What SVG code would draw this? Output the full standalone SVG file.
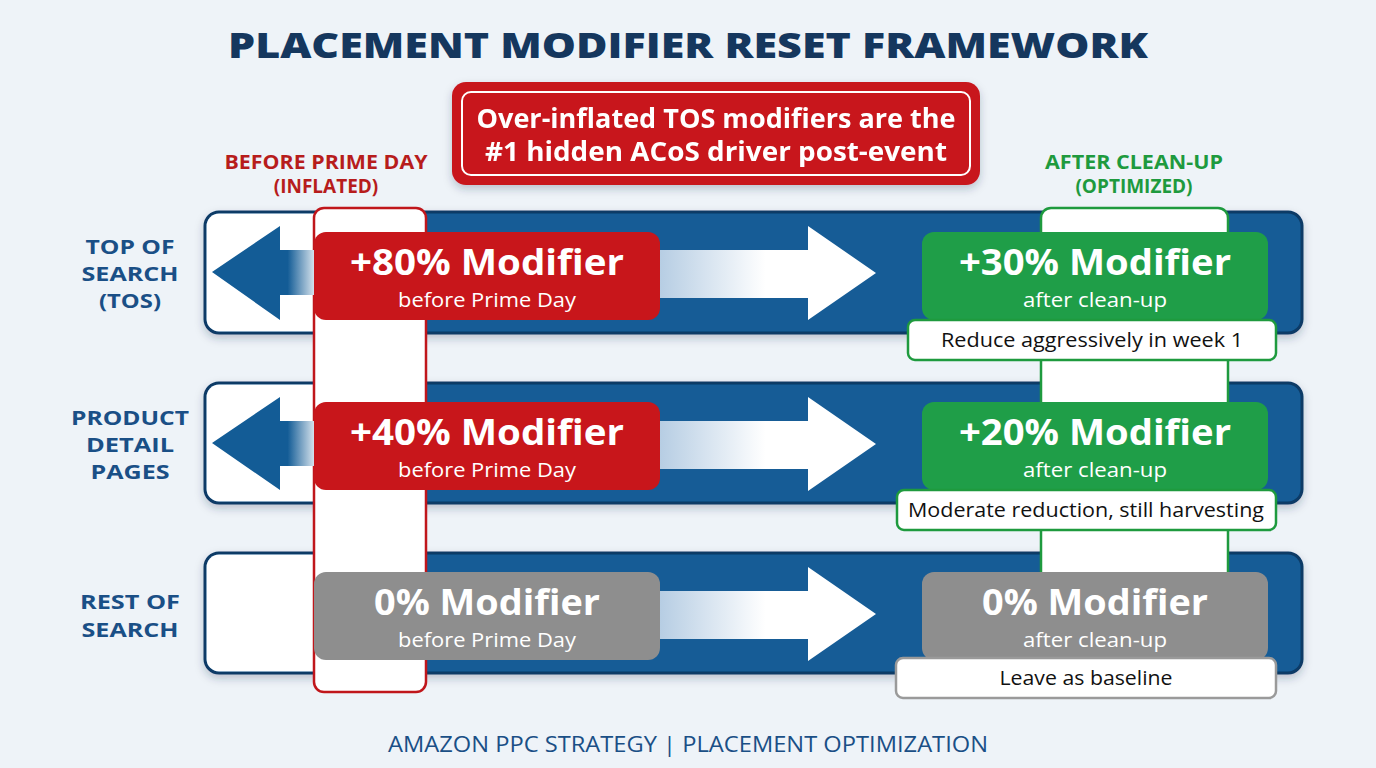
<svg xmlns="http://www.w3.org/2000/svg" width="1376" height="768" viewBox="0 0 1376 768">
<style>
.t{font-family:"Open Sans","Liberation Sans",sans-serif}
.title{font-size:36px;font-weight:800;fill:#15375e}
.lbl{font-size:19px;font-weight:700;fill:#1a4f86;text-anchor:middle}
.hdr{font-size:19px;font-weight:700;text-anchor:middle}
.big{font-size:35px;font-weight:700;fill:#fff;text-anchor:middle}
.sub{font-size:20px;fill:#fff;text-anchor:middle}
.note{font-size:20px;fill:#111;text-anchor:middle}
.band{fill:#135c96;stroke:#0f3a66;stroke-width:3}
.red{fill:#c8161b}
.grn{fill:#1f9e48}
.gry{fill:#8e8e8e}
</style>
<defs>
<filter id="sh" x="-10%" y="-20%" width="120%" height="150%"><feDropShadow dx="0" dy="4" stdDeviation="4" flood-color="#1a3050" flood-opacity="0.25"/></filter>
<linearGradient id="ag" x1="0" x2="1" y1="0" y2="0"><stop offset="0" stop-color="#b3cbe2"/><stop offset="0.5" stop-color="#ffffff"/><stop offset="1" stop-color="#ffffff"/></linearGradient>
<linearGradient id="lg" x1="0" x2="1" y1="0" y2="0"><stop offset="0" stop-color="#135c96"/><stop offset="0.7" stop-color="#135c96"/><stop offset="1" stop-color="#ffffff"/></linearGradient>
</defs>
<rect width="1376" height="768" fill="#eef3f8"/>
<text class="t title" x="228" y="58" textLength="920" lengthAdjust="spacingAndGlyphs">PLACEMENT MODIFIER RESET FRAMEWORK</text>

<g id="callout" filter="url(#sh)">
<rect x="452" y="82" width="528" height="103" rx="14" fill="#c8161b"/>
<rect x="462" y="92" width="508" height="83" rx="9" fill="none" stroke="#fff" stroke-width="2"/>
<text class="t" x="716" y="128" font-size="26" font-weight="700" fill="#fff" text-anchor="middle" textLength="479" lengthAdjust="spacingAndGlyphs">Over-inflated TOS modifiers are the</text>
<text class="t" x="716" y="161" font-size="26" font-weight="700" fill="#fff" text-anchor="middle" textLength="462" lengthAdjust="spacingAndGlyphs">#1 hidden ACoS driver post-event</text>
</g>

<g id="headers">
<text class="t hdr" x="326" y="169" fill="#b71c1c" textLength="203" lengthAdjust="spacingAndGlyphs">BEFORE PRIME DAY</text>
<text class="t hdr" x="326" y="193" fill="#b71c1c">(INFLATED)</text>
<text class="t hdr" x="1134" y="169" fill="#1e9a3e" textLength="178" lengthAdjust="spacingAndGlyphs">AFTER CLEAN-UP</text>
<text class="t hdr" x="1134" y="193" fill="#1e9a3e">(OPTIMIZED)</text>
</g>

<g id="rowlabels">
<text class="t lbl" x="130" y="254" textLength="89" lengthAdjust="spacingAndGlyphs">TOP OF</text>
<text class="t lbl" x="130" y="281" textLength="97" lengthAdjust="spacingAndGlyphs">SEARCH</text>
<text class="t lbl" x="130" y="308" textLength="62" lengthAdjust="spacingAndGlyphs">(TOS)</text>
<text class="t lbl" x="130" y="425" textLength="118" lengthAdjust="spacingAndGlyphs">PRODUCT</text>
<text class="t lbl" x="130" y="452" textLength="88" lengthAdjust="spacingAndGlyphs">DETAIL</text>
<text class="t lbl" x="130" y="479" textLength="79" lengthAdjust="spacingAndGlyphs">PAGES</text>
<text class="t lbl" x="130" y="609" textLength="100" lengthAdjust="spacingAndGlyphs">REST OF</text>
<text class="t lbl" x="130" y="637" textLength="97" lengthAdjust="spacingAndGlyphs">SEARCH</text>
</g>

<g id="bands" filter="url(#sh)">
<rect class="band" x="205" y="212" width="1097" height="121" rx="14"/>
<rect class="band" x="205" y="383" width="1097" height="120" rx="14"/>
<rect class="band" x="205" y="553" width="1097" height="120" rx="14"/>
</g>
<g id="bandwhite">
<path d="M219 213.5 H320 V331.5 H219 A12.5 12.5 0 0 1 206.5 319 V226 A12.5 12.5 0 0 1 219 213.5 Z" fill="#fff"/>
<path d="M219 384.5 H320 V501.5 H219 A12.5 12.5 0 0 1 206.5 489 V397 A12.5 12.5 0 0 1 219 384.5 Z" fill="#fff"/>
<path d="M219 554.5 H320 V671.5 H219 A12.5 12.5 0 0 1 206.5 659 V567 A12.5 12.5 0 0 1 219 554.5 Z" fill="#fff"/>
</g>

<g id="col-before">
<rect x="314" y="208" width="112" height="484" rx="10" fill="#fff" stroke="#c0161b" stroke-width="2.5"/>
</g>
<g id="col-after">
<rect x="1041" y="208" width="187" height="380" rx="10" fill="#fff" stroke="#1e9a3e" stroke-width="2.5"/>
</g>

<g id="connectors">
<path d="M212 272 L280 226 V250 H320 V295 H280 V320 Z" fill="url(#lg)"/>
<path d="M212 443 L280 397 V421 H320 V466 H280 V490 Z" fill="url(#lg)"/>
<path d="M655 250 H808 V226 L876 273 L808 320 V298 H655 Z" fill="url(#ag)"/>
<path d="M655 421 H808 V397 L876 444 L808 491 V469 H655 Z" fill="url(#ag)"/>
<path d="M655 591 H808 V567 L876 614 L808 661 V639 H655 Z" fill="url(#ag)"/>
</g>

<g id="tos-before">
<rect class="red" x="314" y="232" width="346" height="88" rx="12"/>
<text class="t big" x="487" y="275" textLength="274" lengthAdjust="spacingAndGlyphs">+80% Modifier</text>
<text class="t sub" x="487" y="307" textLength="178" lengthAdjust="spacingAndGlyphs">before Prime Day</text>
</g>
<g id="tos-after">
<rect class="grn" x="922" y="232" width="346" height="88" rx="12"/>
<text class="t big" x="1095" y="275" textLength="272" lengthAdjust="spacingAndGlyphs">+30% Modifier</text>
<text class="t sub" x="1095" y="307" textLength="144" lengthAdjust="spacingAndGlyphs">after clean-up</text>
</g>
<g id="tos-note">
<rect x="908" y="320" width="368" height="40" rx="7" fill="#fff" stroke="#1e9a3e" stroke-width="2.5"/>
<text class="t note" x="1092" y="347" textLength="302" lengthAdjust="spacingAndGlyphs">Reduce aggressively in week 1</text>
</g>

<g id="pdp-before">
<rect class="red" x="314" y="402" width="346" height="88" rx="12"/>
<text class="t big" x="487" y="445" textLength="274" lengthAdjust="spacingAndGlyphs">+40% Modifier</text>
<text class="t sub" x="487" y="477" textLength="178" lengthAdjust="spacingAndGlyphs">before Prime Day</text>
</g>
<g id="pdp-after">
<rect class="grn" x="922" y="402" width="346" height="88" rx="12"/>
<text class="t big" x="1095" y="445" textLength="272" lengthAdjust="spacingAndGlyphs">+20% Modifier</text>
<text class="t sub" x="1095" y="477" textLength="144" lengthAdjust="spacingAndGlyphs">after clean-up</text>
</g>
<g id="pdp-note">
<rect x="897" y="490" width="379" height="40" rx="7" fill="#fff" stroke="#1e9a3e" stroke-width="2.5"/>
<text class="t note" x="1086" y="517" textLength="356" lengthAdjust="spacingAndGlyphs">Moderate reduction, still harvesting</text>
</g>

<g id="ros-before">
<rect class="gry" x="314" y="572" width="346" height="88" rx="12"/>
<text class="t big" x="487" y="615" textLength="226" lengthAdjust="spacingAndGlyphs">0% Modifier</text>
<text class="t sub" x="487" y="647" textLength="178" lengthAdjust="spacingAndGlyphs">before Prime Day</text>
</g>
<g id="ros-after">
<rect class="gry" x="922" y="572" width="346" height="88" rx="12"/>
<text class="t big" x="1095" y="615" textLength="226" lengthAdjust="spacingAndGlyphs">0% Modifier</text>
<text class="t sub" x="1095" y="647" textLength="144" lengthAdjust="spacingAndGlyphs">after clean-up</text>
</g>
<g id="ros-note">
<rect x="896" y="658" width="380" height="40" rx="7" fill="#fff" stroke="#9a9a9a" stroke-width="2.5"/>
<text class="t note" x="1086" y="685" textLength="173" lengthAdjust="spacingAndGlyphs">Leave as baseline</text>
</g>

<text class="t" x="688" y="752" font-size="21" fill="#1a4f86" text-anchor="middle" textLength="600" lengthAdjust="spacingAndGlyphs">AMAZON PPC STRATEGY | PLACEMENT OPTIMIZATION</text>
</svg>
